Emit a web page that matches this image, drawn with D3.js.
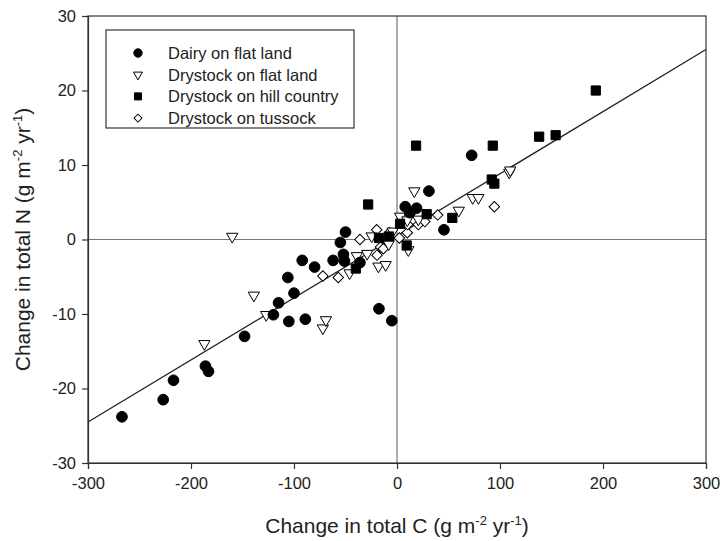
<!DOCTYPE html>
<html>
<head>
<meta charset="utf-8">
<script src="https://cdn.jsdelivr.net/npm/d3@7"></script>
<style>
  body { margin: 0; background: #fff; }
  text { font-family: "Liberation Sans", Arial, sans-serif; }
</style>
</head>
<body>
<svg id="chart" width="720" height="541"></svg>
<script>
// values: [change in C, change in N]
const dairyFlat = [
  [-267, -23.8], [-227, -21.5], [-217, -18.9], [-186, -17.0], [-183, -17.7],
  [-148, -13.0], [-120, -10.1], [-115, -8.5], [-105, -11.0], [-89, -10.7],
  [-106, -5.1], [-100, -7.2], [-92, -2.8], [-80, -3.7], [-62, -2.8],
  [-52, -2.0], [-51, -2.9], [-36, -3.1], [-55, -0.4], [-50, 1.0],
  [-17.5, -9.3], [-5, -10.9], [8, 4.4], [19, 4.2], [12.6, 3.6],
  [31, 6.5], [45.6, 1.3], [72.5, 11.3]
];
const drystockFlat = [
  [-187, -14.0], [-160, 0.4], [-139, -7.5], [-127, -10.1], [-72, -11.9],
  [-69, -10.8], [-46, -4.5], [-39, -2.2], [-29, -1.9], [-24.6, 0.45],
  [-18, -3.6], [-11, -3.4], [-8, -0.6], [-4.2, 1.1], [3, 3.1],
  [10, 2.6], [11, -1.4], [16.8, 6.5], [20.7, 2.7], [60, 3.9],
  [73.5, 5.6], [79, 5.6], [109, 9.0], [110, 9.3]
];
const drystockHill = [
  [-40, -3.9], [-28, 4.7], [-17.5, 0.2], [-7.8, 0.4], [3, 2.1],
  [9.4, -0.8], [18.5, 12.6], [28.8, 3.4], [53.7, 2.9], [92, 8.05],
  [94.5, 7.5], [93, 12.6], [138, 13.8], [154, 14.0], [193, 20.0]
];
const drystockTussock = [
  [-72, -4.9], [-57, -5.1], [-36, 0], [-19.7, 1.3], [-19.4, -2.1],
  [-16, -1.0], [-13.3, -1.25], [-7.4, 0.9], [2.3, 0.2], [10, 0.9],
  [10.4, 2.0], [20.7, 2.0], [27, 2.4], [39.5, 3.3], [94.5, 4.4]
];
// fitted line end points
const fitLine = [[-300, -24.5], [300, 25.5]];
const xTicks = [-300, -200, -100, 0, 100, 200, 300];
const yTicks = [-30, -20, -10, 0, 10, 20, 30];
const seriesNames = ["Dairy on flat land", "Drystock on flat land", "Drystock on hill country", "Drystock on tussock"];

const svg = d3.select("#chart");
const x = d3.scaleLinear().domain([-300, 300]).range([88, 706]);
const y = d3.scaleLinear().domain([-30, 30]).range([463, 16]);

// zero lines
svg.append("line").attr("x1", x(0)).attr("x2", x(0)).attr("y1", y(30)).attr("y2", y(-30))
  .attr("stroke", "#777").attr("stroke-width", 1.2);
svg.append("line").attr("x1", x(-300)).attr("x2", x(300)).attr("y1", y(0)).attr("y2", y(0))
  .attr("stroke", "#777").attr("stroke-width", 1.2);

// frame
svg.append("rect").attr("x", x(-300)).attr("y", y(30))
  .attr("width", x(300) - x(-300)).attr("height", y(-30) - y(30))
  .attr("fill", "none").attr("stroke", "#333").attr("stroke-width", 1.2);

const xAxis = svg.append("g").attr("transform", `translate(0,${y(-30)})`)
  .call(d3.axisBottom(x).tickValues(xTicks).tickFormat(d => String(d)).tickSize(6).tickPadding(8));
const yAxis = svg.append("g").attr("transform", `translate(${x(-300)},0)`)
  .call(d3.axisLeft(y).tickValues(yTicks).tickFormat(d => String(d)).tickSize(6).tickPadding(6));
[xAxis, yAxis].forEach(a => {
  a.select(".domain").attr("stroke", "#333").attr("stroke-width", 1.2);
  a.selectAll(".tick line").attr("stroke", "#333").attr("stroke-width", 1.2);
  a.selectAll(".tick text").attr("font-size", 16.5).attr("fill", "#222")
    .attr("font-family", "'Liberation Sans', Arial, sans-serif");
});

// regression line
svg.append("path").datum(fitLine)
  .attr("d", d3.line().x(d => x(d[0])).y(d => y(d[1])))
  .attr("stroke", "#222").attr("stroke-width", 1.3).attr("fill", "none");

const sym = {
  circle: d3.symbol().type(d3.symbolCircle).size(90),
  tri: d3.symbol().type(d3.symbolTriangle).size(55),
  square: d3.symbol().type(d3.symbolSquare).size(85),
  diamond: d3.symbol().type(d3.symbolSquare).size(55)
};

function drawSeries(data, kind) {
  const g = svg.append("g");
  g.selectAll("path").data(data).enter().append("path")
    .attr("d", sym[kind])
    .attr("transform", d => {
      let t = `translate(${x(d[0])},${y(d[1])})`;
      if (kind === "tri") t += " rotate(180)";
      if (kind === "diamond") t += " rotate(45)";
      return t;
    })
    .attr("fill", (kind === "circle" || kind === "square") ? "#000" : "#fff")
    .attr("stroke", "#000").attr("stroke-width", 1);
}
drawSeries(drystockTussock, "diamond");
drawSeries(drystockFlat, "tri");
drawSeries(drystockHill, "square");
drawSeries(dairyFlat, "circle");

// legend
const legend = svg.append("g");
legend.append("rect").attr("x", 106).attr("y", 30).attr("width", 248).attr("height", 98)
  .attr("fill", "#fff").attr("stroke", "#333").attr("stroke-width", 1.2);
const legKinds = ["circle", "tri", "square", "diamond"];
const legSym = {
  circle: d3.symbol().type(d3.symbolCircle).size(55),
  tri: d3.symbol().type(d3.symbolTriangle).size(35),
  square: d3.symbol().type(d3.symbolSquare).size(50),
  diamond: d3.symbol().type(d3.symbolSquare).size(32)
};
seriesNames.forEach((name, i) => {
  const cy = 53 + i * 21.7;
  const k = legKinds[i];
  let t = `translate(138,${cy})`;
  if (k === "tri") t += " rotate(180)";
  if (k === "diamond") t += " rotate(45)";
  legend.append("path").attr("d", legSym[k]).attr("transform", t)
    .attr("fill", (k === "circle" || k === "square") ? "#000" : "#fff")
    .attr("stroke", "#000").attr("stroke-width", 1);
  legend.append("text").attr("x", 168).attr("y", cy + 6).attr("font-size", 16.5)
    .attr("fill", "#222").text(name);
});

// axis titles
const xt = svg.append("text").attr("x", x(0)).attr("y", 533).attr("text-anchor", "middle")
  .attr("font-size", 21).attr("fill", "#222");
xt.append("tspan").text("Change in total C (g m");
xt.append("tspan").attr("dy", -8).attr("font-size", 13).text("-2");
xt.append("tspan").attr("dy", 8).text(" yr");
xt.append("tspan").attr("dy", -8).attr("font-size", 13).text("-1");
xt.append("tspan").attr("dy", 8).text(")");

const yt = svg.append("text").attr("transform", `translate(30,${y(0)}) rotate(-90)`)
  .attr("text-anchor", "middle").attr("font-size", 21).attr("fill", "#222");
yt.append("tspan").text("Change in total N (g m");
yt.append("tspan").attr("dy", -8).attr("font-size", 13).text("-2");
yt.append("tspan").attr("dy", 8).text(" yr");
yt.append("tspan").attr("dy", -8).attr("font-size", 13).text("-1");
yt.append("tspan").attr("dy", 8).text(")");
</script>
</body>
</html>
